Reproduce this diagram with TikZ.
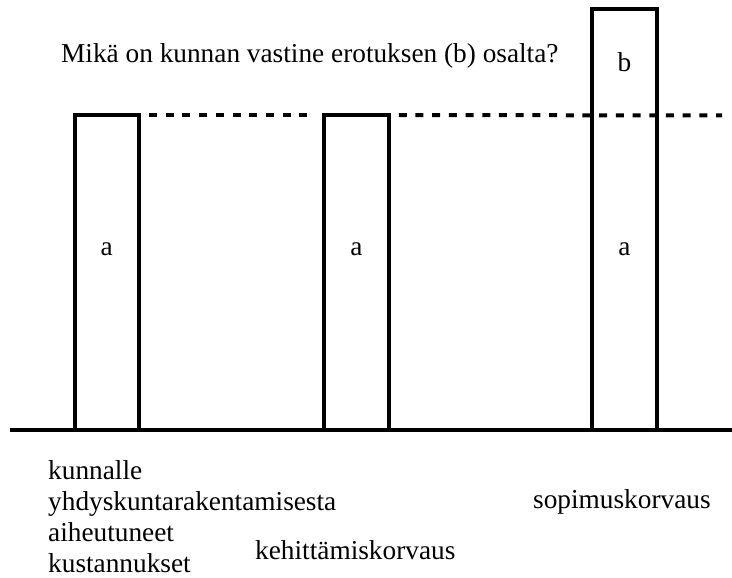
\documentclass[tikz,border=0pt]{standalone}
\usepackage{fontspec}
\setmainfont{Liberation Serif}
\begin{document}
\begin{tikzpicture}[x=1pt,y=-1pt,
  bar/.style={draw=black,line width=4pt,minimum width=64.5pt,inner sep=0pt,outer sep=0pt},
  lbl/.style={font=\fontsize{27.3}{30}\selectfont,inner sep=0pt,anchor=base west},
  barlbl/.style={font=\fontsize{27.3}{30}\selectfont,inner sep=0pt,anchor=base},
  dashline/.style={line width=4pt,dash pattern=on 8pt off 8.7pt},
  ground/.style={line width=3.5pt}]
\useasboundingbox (0,0) rectangle (732,578);
\node[bar,minimum height=315pt] (bar1) at (106.8,272.5) {};
\node[bar,minimum height=315pt] (bar2) at (356.5,272.5) {};
\node[bar,minimum height=421pt] (bar3) at (624.5,219.5) {};
\coordinate (gl) at (10,430);
\coordinate (gr) at (732,430);
\coordinate (de) at (722,115.5);
\draw[ground] (gl) -- (gr);
\draw[dashline] ([xshift=10pt]bar1.north east) -- ([xshift=-14pt]bar2.north west);
\draw[dashline] ([xshift=10pt]bar2.north east) -- (de);
\node[barlbl] (a1) at (106.8,255) {a};
\node[barlbl] (a2) at (356.5,255) {a};
\node[barlbl] (a3) at (624.5,255) {a};
\node[barlbl] (b3) at (624.5,72) {b};
\node[lbl] (title) at (61,63) {Mikä on kunnan vastine erotuksen (b) osalta?};
\node[lbl] (l1) at (48,479) {kunnalle};
\node[lbl] (l2) at (48,510) {yhdyskuntarakentamisesta};
\node[lbl] (l3) at (48,541) {aiheutuneet};
\node[lbl] (l4) at (48,572) {kustannukset};
\node[lbl] (keh) at (255,559) {kehittämiskorvaus};
\node[lbl] (sop) at (533,508) {sopimuskorvaus};
\end{tikzpicture}
\end{document}
